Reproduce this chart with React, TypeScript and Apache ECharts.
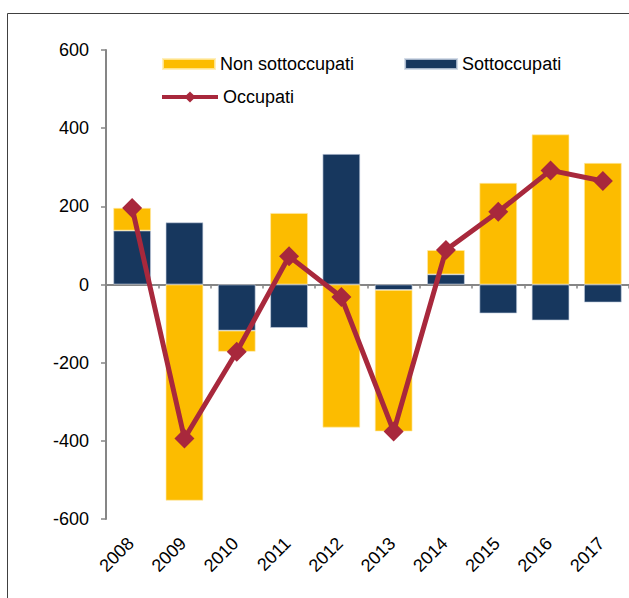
import React, { useEffect, useRef } from "react";
import * as echarts from "echarts";

const years = ["2008", "2009", "2010", "2011", "2012", "2013", "2014", "2015", "2016", "2017"];
const sottoccupati = [138, 159, -118, -111, 334, -14, 26, -74, -92, -46];
const nonSottoccupati = [58, -553, -54, 183, -366, -362, 62, 260, 384, 311];
const occupati = [196, -394, -172, 72, -32, -376, 88, 186, 292, 265];
const yTicks = { min: -600, max: 600, interval: 200 };

const FONT = "'Liberation Sans', Arial, sans-serif";
const AXIS_GRAY = "#868686";
const YELLOW = "#FCBC00";
const NAVY = "#17375E";
const RED = "#A8283C";

export default function App() {
  const ref = useRef<HTMLDivElement>(null);
  useEffect(() => {
    if (!ref.current) return;
    const chart = echarts.init(ref.current, undefined, { renderer: "svg" });
    chart.setOption({
      animation: false,
      textStyle: { fontFamily: FONT },
      graphic: [
        {
          type: "rect",
          shape: { x: 7.5, y: 13.5, width: 800, height: 800 },
          style: { fill: "none", stroke: "#404040", lineWidth: 1 },
          silent: true,
        },
      ],
      legend: [
        {
          data: ["Non sottoccupati", "Sottoccupati"],
          left: 162,
          top: 55,
          padding: 0,
          icon: "rect",
          itemWidth: 52,
          itemHeight: 10,
          itemGap: 50,
          textStyle: { fontSize: 18, color: "#000", fontFamily: FONT },
        },
        {
          data: ["Occupati"],
          left: 160,
          top: 88,
          padding: 0,
          itemWidth: 56,
          itemHeight: 14,
          lineStyle: { width: 4 },
          textStyle: { fontSize: 18, color: "#000", fontFamily: FONT },
        },
      ],
      grid: { left: 106, right: 0, top: 50, bottom: 79, containLabel: false },
      xAxis: [
        {
          type: "category",
          data: years,
          position: "bottom",
          axisLine: { onZero: true, lineStyle: { color: AXIS_GRAY, width: 2 } },
          axisTick: { show: true, length: 4, lineStyle: { color: AXIS_GRAY, width: 1.5 } },
          axisLabel: { show: false },
          splitLine: { show: false },
        },
        {
          type: "category",
          data: years,
          position: "bottom",
          axisLine: { show: false, onZero: false },
          axisTick: { show: false },
          axisLabel: {
            show: true,
            rotate: 45,
            margin: 20,
            fontSize: 18,
            color: "#000",
            fontFamily: FONT,
            interval: 0,
            padding: [0, 2, 0, 0],
          },
          splitLine: { show: false },
        },
      ],
      yAxis: {
        type: "value",
        min: yTicks.min,
        max: yTicks.max,
        interval: yTicks.interval,
        axisLine: { show: true, lineStyle: { color: AXIS_GRAY, width: 2 } },
        axisTick: { show: true, length: 5, lineStyle: { color: AXIS_GRAY, width: 1.5 } },
        axisLabel: { fontSize: 18, color: "#000", margin: 17, fontFamily: FONT },
        splitLine: { show: false },
      },
      series: [
        {
          name: "Sottoccupati",
          type: "bar",
          stack: "tot",
          xAxisIndex: 0,
          data: sottoccupati,
          barWidth: "72%",
          itemStyle: { color: NAVY, borderColor: "rgba(200,210,225,0.8)", borderWidth: 0.8 },
          z: 2,
        },
        {
          name: "Non sottoccupati",
          type: "bar",
          stack: "tot",
          xAxisIndex: 0,
          data: nonSottoccupati,
          barWidth: "72%",
          itemStyle: { color: YELLOW, borderColor: "rgba(255,235,170,0.8)", borderWidth: 0.8 },
          z: 2,
        },
        {
          name: "Occupati",
          type: "line",
          xAxisIndex: 0,
          data: occupati,
          symbol: "diamond",
          symbolSize: 20,
          lineStyle: { color: RED, width: 5 },
          itemStyle: { color: RED },
          z: 5,
        },
      ],
    });
    return () => chart.dispose();
  }, []);
  return (
    <div
      ref={ref}
      style={{ position: "fixed", left: 0, top: 0, width: 629, height: 598, background: "#fff" }}
    />
  );
}
